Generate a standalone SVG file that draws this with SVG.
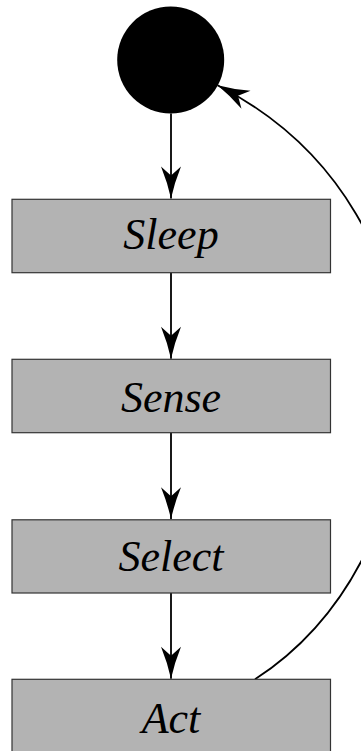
<svg xmlns="http://www.w3.org/2000/svg" width="361" height="751" viewBox="0 0 361 751">
  <style>
    .state { fill: #b3b3b3; stroke: #333333; stroke-width: 1.2; }
    .label { font-family: "Liberation Serif", "DejaVu Serif", serif; font-style: italic; font-size: 44px; fill: #000000; text-anchor: middle; }
    .edge { fill: none; stroke: #000000; stroke-width: 1.8; }
  </style>
  <defs>
    <marker id="arrow" markerUnits="userSpaceOnUse" viewBox="-34 -11 36 22" refX="0" refY="0" markerWidth="36" markerHeight="22" orient="auto">
      <path d="M0,0 Q-16,-3.5 -32,-10 L-23,0 L-32,10 Q-16,3.5 0,0 Z" fill="#000000"/>
    </marker>
  </defs>

  <!-- connectors -->
  <g id="connectors">
    <path class="edge" d="M171,113.5 L171,198.5" marker-end="url(#arrow)"/>
    <path class="edge" d="M171,272.7 L171,358.7" marker-end="url(#arrow)"/>
    <path class="edge" d="M171,432.7 L171,519.3" marker-end="url(#arrow)"/>
    <path class="edge" d="M171,592.7 L171,678.7" marker-end="url(#arrow)"/>
    <path class="edge" d="M255,679.3 C450.4,552.1 466.5,212.1 217.5,85.2" marker-end="url(#arrow)"/>
  </g>

  <!-- initial state -->
  <g id="start">
    <circle cx="170.7" cy="60" r="53.5" fill="#000000"/>
  </g>

  <g id="sleep">
    <rect class="state" x="12" y="199.3" width="318.5" height="73.4"/>
    <text class="label" x="171" y="249">Sleep</text>
  </g>

  <g id="sense">
    <rect class="state" x="12" y="359.3" width="318.5" height="73.4"/>
    <text class="label" x="171" y="411.5">Sense</text>
  </g>

  <g id="select">
    <rect class="state" x="12" y="519.8" width="318.5" height="73.2"/>
    <text class="label" x="171" y="570.5">Select</text>
  </g>

  <g id="act">
    <rect class="state" x="12" y="679.3" width="318.5" height="73.4"/>
    <text class="label" x="171" y="733">Act</text>
  </g>
</svg>
